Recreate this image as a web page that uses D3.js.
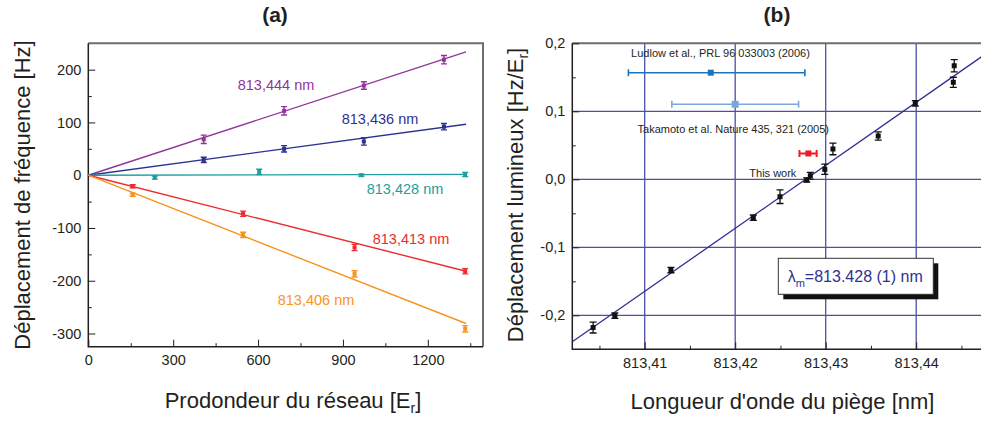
<!DOCTYPE html>
<html><head><meta charset="utf-8">
<script src="https://cdn.jsdelivr.net/npm/d3@7"></script>
<style>
body{margin:0;background:#fff;}
text{font-family:"Liberation Sans",Arial,Helvetica,sans-serif;}
</style></head>
<body><svg id="c" width="981" height="421"></svg>
<script>
// ---------- Panel (a) data ----------
const depthsA = [
  [408, 692, 974, 1257],
  [408, 692, 974, 1257],
  [235, 604, 965, 1332],
  [157, 547, 941, 1332],
  [157, 547, 941, 1332]
];
const shiftsA = [
  [68, 122, 170, 219],
  [29, 50, 64, 92],
  [-4.5, 6.3, 0, 1.3],
  [-21, -73, -137, -182],
  [-37, -113, -187, -291]
];
const errsA = [
  [8, 8, 7, 8],
  [5, 6, 7, 6],
  [3, 5, 2, 4],
  [3, 5, 6, 5],
  [3, 5, 6, 6]
];
const seriesNamesA = ["813,444 nm", "813,436 nm", "813,428 nm", "813,413 nm", "813,406 nm"];
const seriesColorsA = ["#93349b", "#2e3192", "#1f9e9e", "#ee2a2e", "#f7941d"];
const fitXA = [0, 1335];
const fitEndA = [233.7, 96.5, 1.5, -182, -281];
const xTicksA = [0, 300, 600, 900, 1200];
const yTicksA = [-300, -200, -100, 0, 100, 200];

// ---------- Panel (b) data ----------
const lambdaB = [813.4043, 813.4067, 813.4129, 813.4220, 813.42495, 813.4279, 813.4283, 813.4299, 813.4308, 813.4358, 813.4399, 813.4441, 813.4442];
const shiftB  = [-0.218, -0.2006, -0.1334, -0.0565, -0.0256, -0.001, 0.0053, 0.0147, 0.0446, 0.0637, 0.1118, 0.1426, 0.167];
const errB    = [0.008, 0.004, 0.004, 0.004, 0.010, 0.003, 0.005, 0.0075, 0.0085, 0.006, 0.004, 0.0075, 0.009];
const fitLambdaB = [813.402, 813.4472];
const fitShiftB = [-0.239, 0.180];
const refNames = ["Ludlow et al., PRL 96 033003 (2006)", "Takamoto et al. Nature 435, 321 (2005)", "This work"];
const refLambda = [813.4173, 813.4200, 813.42808];
const refShift = [0.1568, 0.1103, 0.038];
const refLo = [813.4082, 813.4130, 813.4271];
const refHi = [813.4277, 813.4270, 813.4290];
const refColors = ["#1b75bc", "#7da7d9", "#ed1c24"];
const xTicksB = [813.41, 813.42, 813.43, 813.44];
const yTicksB = [-0.2, -0.1, 0.0, 0.1, 0.2];

const svg = d3.select("#c");
svg.append("rect").attr("width", 981).attr("height", 421).attr("fill", "#fff");
const ink = "#231f20";

function styleAxis(g, fs) {
  g.select(".domain").remove();
  g.selectAll("line").attr("stroke", ink).attr("stroke-width", 1);
  g.selectAll("text").attr("fill", ink).attr("font-size", fs).attr("font-family", "Liberation Sans, Arial, sans-serif");
}

// ================= Panel (a) =================
const xA = d3.scaleLinear([0, 1395], [88.3, 483]);
const yA = d3.scaleLinear([-325, 250], [346.7, 43.3]);
const gA = svg.append("g");

gA.append("path").attr("d", `M${xA.range()[0]},${yA.range()[1]}H${xA.range()[1]}V${yA.range()[0]}`)
  .attr("fill", "none").attr("stroke", "#6d6e71").attr("stroke-width", 2);

gA.append("g").attr("transform", `translate(0,${yA.range()[0]})`)
  .call(d3.axisBottom(xA).tickValues(d3.range(150, 1395, 300)).tickSize(-3.5).tickFormat(""))
  .call(g => styleAxis(g, 14));
gA.append("g").attr("transform", `translate(${xA.range()[0]},0)`)
  .call(d3.axisLeft(yA).tickValues(d3.range(-250, 250, 100)).tickSize(-3.5).tickFormat(""))
  .call(g => styleAxis(g, 14));
gA.append("g").attr("transform", `translate(0,${yA.range()[0]})`)
  .call(d3.axisBottom(xA).tickValues(xTicksA).tickSize(-7).tickPadding(8).tickFormat(d => String(d)))
  .call(g => styleAxis(g, "14.5px"));
gA.append("g").attr("transform", `translate(${xA.range()[0]},0)`)
  .call(d3.axisLeft(yA).tickValues(yTicksA).tickSize(-7).tickPadding(7).tickFormat(d => String(d)))
  .call(g => styleAxis(g, "14.5px"));
gA.append("path").attr("d", `M${xA.range()[0]},${yA.range()[1]}V${yA.range()[0]}H${xA.range()[1]}`)
  .attr("fill", "none").attr("stroke", ink).attr("stroke-width", 1.5);

seriesNamesA.forEach((name, i) => {
  gA.append("line")
    .attr("x1", xA(fitXA[0])).attr("y1", yA(0))
    .attr("x2", xA(fitXA[1])).attr("y2", yA(fitEndA[i]))
    .attr("stroke", seriesColorsA[i]).attr("stroke-width", 1.4);
});
seriesNamesA.forEach((name, i) => {
  const c = seriesColorsA[i];
  depthsA[i].forEach((d, j) => {
    const cx = xA(d), v = shiftsA[i][j], e = errsA[i][j];
    const yt = yA(v + e), yb = yA(v - e);
    gA.append("path").attr("d", `M${cx},${yt}V${yb}M${cx - 3},${yt}H${cx + 3}M${cx - 3},${yb}H${cx + 3}`)
      .attr("stroke", c).attr("stroke-width", 1.4).attr("fill", "none");
    gA.append("rect").attr("x", cx - 2).attr("y", yA(v) - 2).attr("width", 4).attr("height", 4).attr("fill", c);
  });
});
const labPosA = [[237.7, 85], [341.7, 118.3], [366.7, 188.3], [372.7, 239], [277.7, 300]];
seriesNamesA.forEach((name, i) => {
  gA.append("text").attr("x", labPosA[i][0]).attr("y", labPosA[i][1]).attr("dy", "0.36em")
    .attr("fill", seriesColorsA[i]).attr("font-size", "14.5px").text(name);
});
svg.append("text").attr("x", 275).attr("y", 22).attr("text-anchor", "middle")
  .attr("font-size", "21px").attr("font-weight", "bold").attr("fill", ink).text("(a)");
const xtA = svg.append("text").attr("x", 293).attr("y", 408).attr("text-anchor", "middle")
  .attr("font-size", "22px").attr("fill", ink);
xtA.append("tspan").text("Prodondeur du réseau [E");
xtA.append("tspan").attr("font-size", "14px").attr("dy", 5).text("r");
xtA.append("tspan").attr("dy", -5).text("]");
svg.append("text").attr("transform", "translate(30,195) rotate(-90)").attr("text-anchor", "middle")
  .attr("font-size", "22px").attr("fill", ink).text("Déplacement de fréquence [Hz]");

// ================= Panel (b) =================
const xB = d3.scaleLinear([813.402, 813.45], [572.3, 1006.7]);
const yB = d3.scaleLinear([-0.25, 0.2], [349.3, 43.3]);
const gB = svg.append("g");
const grid = "#4b50a3";

xTicksB.forEach(t => {
  gB.append("line").attr("x1", xB(t)).attr("x2", xB(t)).attr("y1", yB.range()[1]).attr("y2", yB.range()[0])
    .attr("stroke", grid).attr("stroke-width", 1.3);
});
yTicksB.filter(t => t < 0.2).forEach(t => {
  gB.append("line").attr("x1", xB.range()[0]).attr("x2", 981).attr("y1", yB(t)).attr("y2", yB(t))
    .attr("stroke", grid).attr("stroke-width", 1.3);
});
gB.append("line").attr("x1", xB.range()[0]).attr("x2", 981).attr("y1", yB.range()[1]).attr("y2", yB.range()[1])
  .attr("stroke", "#6d6e71").attr("stroke-width", 2);

gB.append("g").attr("transform", `translate(0,${yB.range()[0]})`)
  .call(d3.axisBottom(xB).tickValues([813.405, 813.415, 813.425, 813.435, 813.445]).tickSize(-3.5).tickFormat(""))
  .call(g => styleAxis(g, 14));
gB.append("g").attr("transform", `translate(${xB.range()[0]},0)`)
  .call(d3.axisLeft(yB).tickValues([-0.15, -0.05, 0.05, 0.15]).tickSize(-3.5).tickFormat(""))
  .call(g => styleAxis(g, 14));
const fmtB = d3.format(".2f"), fmtY = d3.format(".1f");
gB.append("g").attr("transform", `translate(0,${yB.range()[0]})`)
  .call(d3.axisBottom(xB).tickValues(xTicksB).tickSize(-7).tickPadding(8).tickFormat(d => fmtB(d).replace(".", ",")))
  .call(g => styleAxis(g, "14.5px"));
gB.append("g").attr("transform", `translate(${xB.range()[0]},0)`)
  .call(d3.axisLeft(yB).tickValues(yTicksB).tickSize(-7).tickPadding(7).tickFormat(d => fmtY(d).replace(".", ",").replace("−", "-")))
  .call(g => styleAxis(g, "14.5px"));
gB.append("path").attr("d", `M${xB.range()[0]},${yB.range()[1]}V${yB.range()[0]}H981`)
  .attr("fill", "none").attr("stroke", ink).attr("stroke-width", 1.5);

gB.append("line").attr("x1", xB(fitLambdaB[0])).attr("y1", yB(fitShiftB[0]))
  .attr("x2", xB(fitLambdaB[1])).attr("y2", yB(fitShiftB[1]))
  .attr("stroke", "#2e3192").attr("stroke-width", 1.3);

lambdaB.forEach((l, i) => {
  const cx = xB(l), v = shiftB[i], e = errB[i];
  const yt = yB(v + e), yb = yB(v - e);
  gB.append("path").attr("d", `M${cx},${yt}V${yb}M${cx - 3.5},${yt}H${cx + 3.5}M${cx - 3.5},${yb}H${cx + 3.5}`)
    .attr("stroke", "#111").attr("stroke-width", 1.3).attr("fill", "none");
  gB.append("rect").attr("x", cx - 2.5).attr("y", yB(v) - 2.5).attr("width", 5).attr("height", 5).attr("fill", "#111");
});

refNames.forEach((n, i) => {
  const cy = yB(refShift[i]), x1 = xB(refLo[i]), x2 = xB(refHi[i]);
  const c = refColors[i];
  gB.append("path").attr("d", `M${x1},${cy}H${x2}M${x1},${cy - 3.5}V${cy + 3.5}M${x2},${cy - 3.5}V${cy + 3.5}`)
    .attr("stroke", c).attr("stroke-width", i === 2 ? 2 : 1.6).attr("fill", "none");
  const s = i === 1 ? 7 : 6;
  gB.append("rect").attr("x", xB(refLambda[i]) - s / 2).attr("y", cy - s / 2).attr("width", s).attr("height", s).attr("fill", c);
});
const refLab = [[720.5, 53.3, "middle"], [733.3, 129, "middle"], [749.3, 172.7, "start"]];
refNames.forEach((n, i) => {
  gB.append("text").attr("x", refLab[i][0]).attr("y", refLab[i][1]).attr("dy", "0.36em")
    .attr("text-anchor", refLab[i][2]).attr("font-size", "11px").attr("fill", ink).text(n);
});

gB.append("rect").attr("x", 783.3).attr("y", 263.3).attr("width", 155).attr("height", 36).attr("fill", "#111");
gB.append("rect").attr("x", 778.3).attr("y", 258.3).attr("width", 155).attr("height", 36).attr("fill", "#fff")
  .attr("stroke", "#333").attr("stroke-width", 1);
const bt = gB.append("text").attr("x", 787.7).attr("y", 281.5).attr("font-size", "16px").attr("fill", "#2e3192");
bt.append("tspan").text("λ");
bt.append("tspan").attr("font-size", "11px").attr("dy", 5).text("m");
bt.append("tspan").attr("dy", -5).text("=813.428 (1) nm");

svg.append("text").attr("x", 777).attr("y", 22).attr("text-anchor", "middle")
  .attr("font-size", "21px").attr("font-weight", "bold").attr("fill", ink).text("(b)");
svg.append("text").attr("x", 782.5).attr("y", 409).attr("text-anchor", "middle")
  .attr("font-size", "22px").attr("fill", ink).text("Longueur d'onde du piège [nm]");
const ytB = svg.append("text").attr("transform", "translate(523,195) rotate(-90)").attr("text-anchor", "middle")
  .attr("font-size", "22px").attr("fill", ink);
ytB.append("tspan").text("Déplacement lumineux [Hz/E");
ytB.append("tspan").attr("font-size", "14px").attr("dy", 5).text("r");
ytB.append("tspan").attr("dy", -5).text("]");
</script></body></html>
